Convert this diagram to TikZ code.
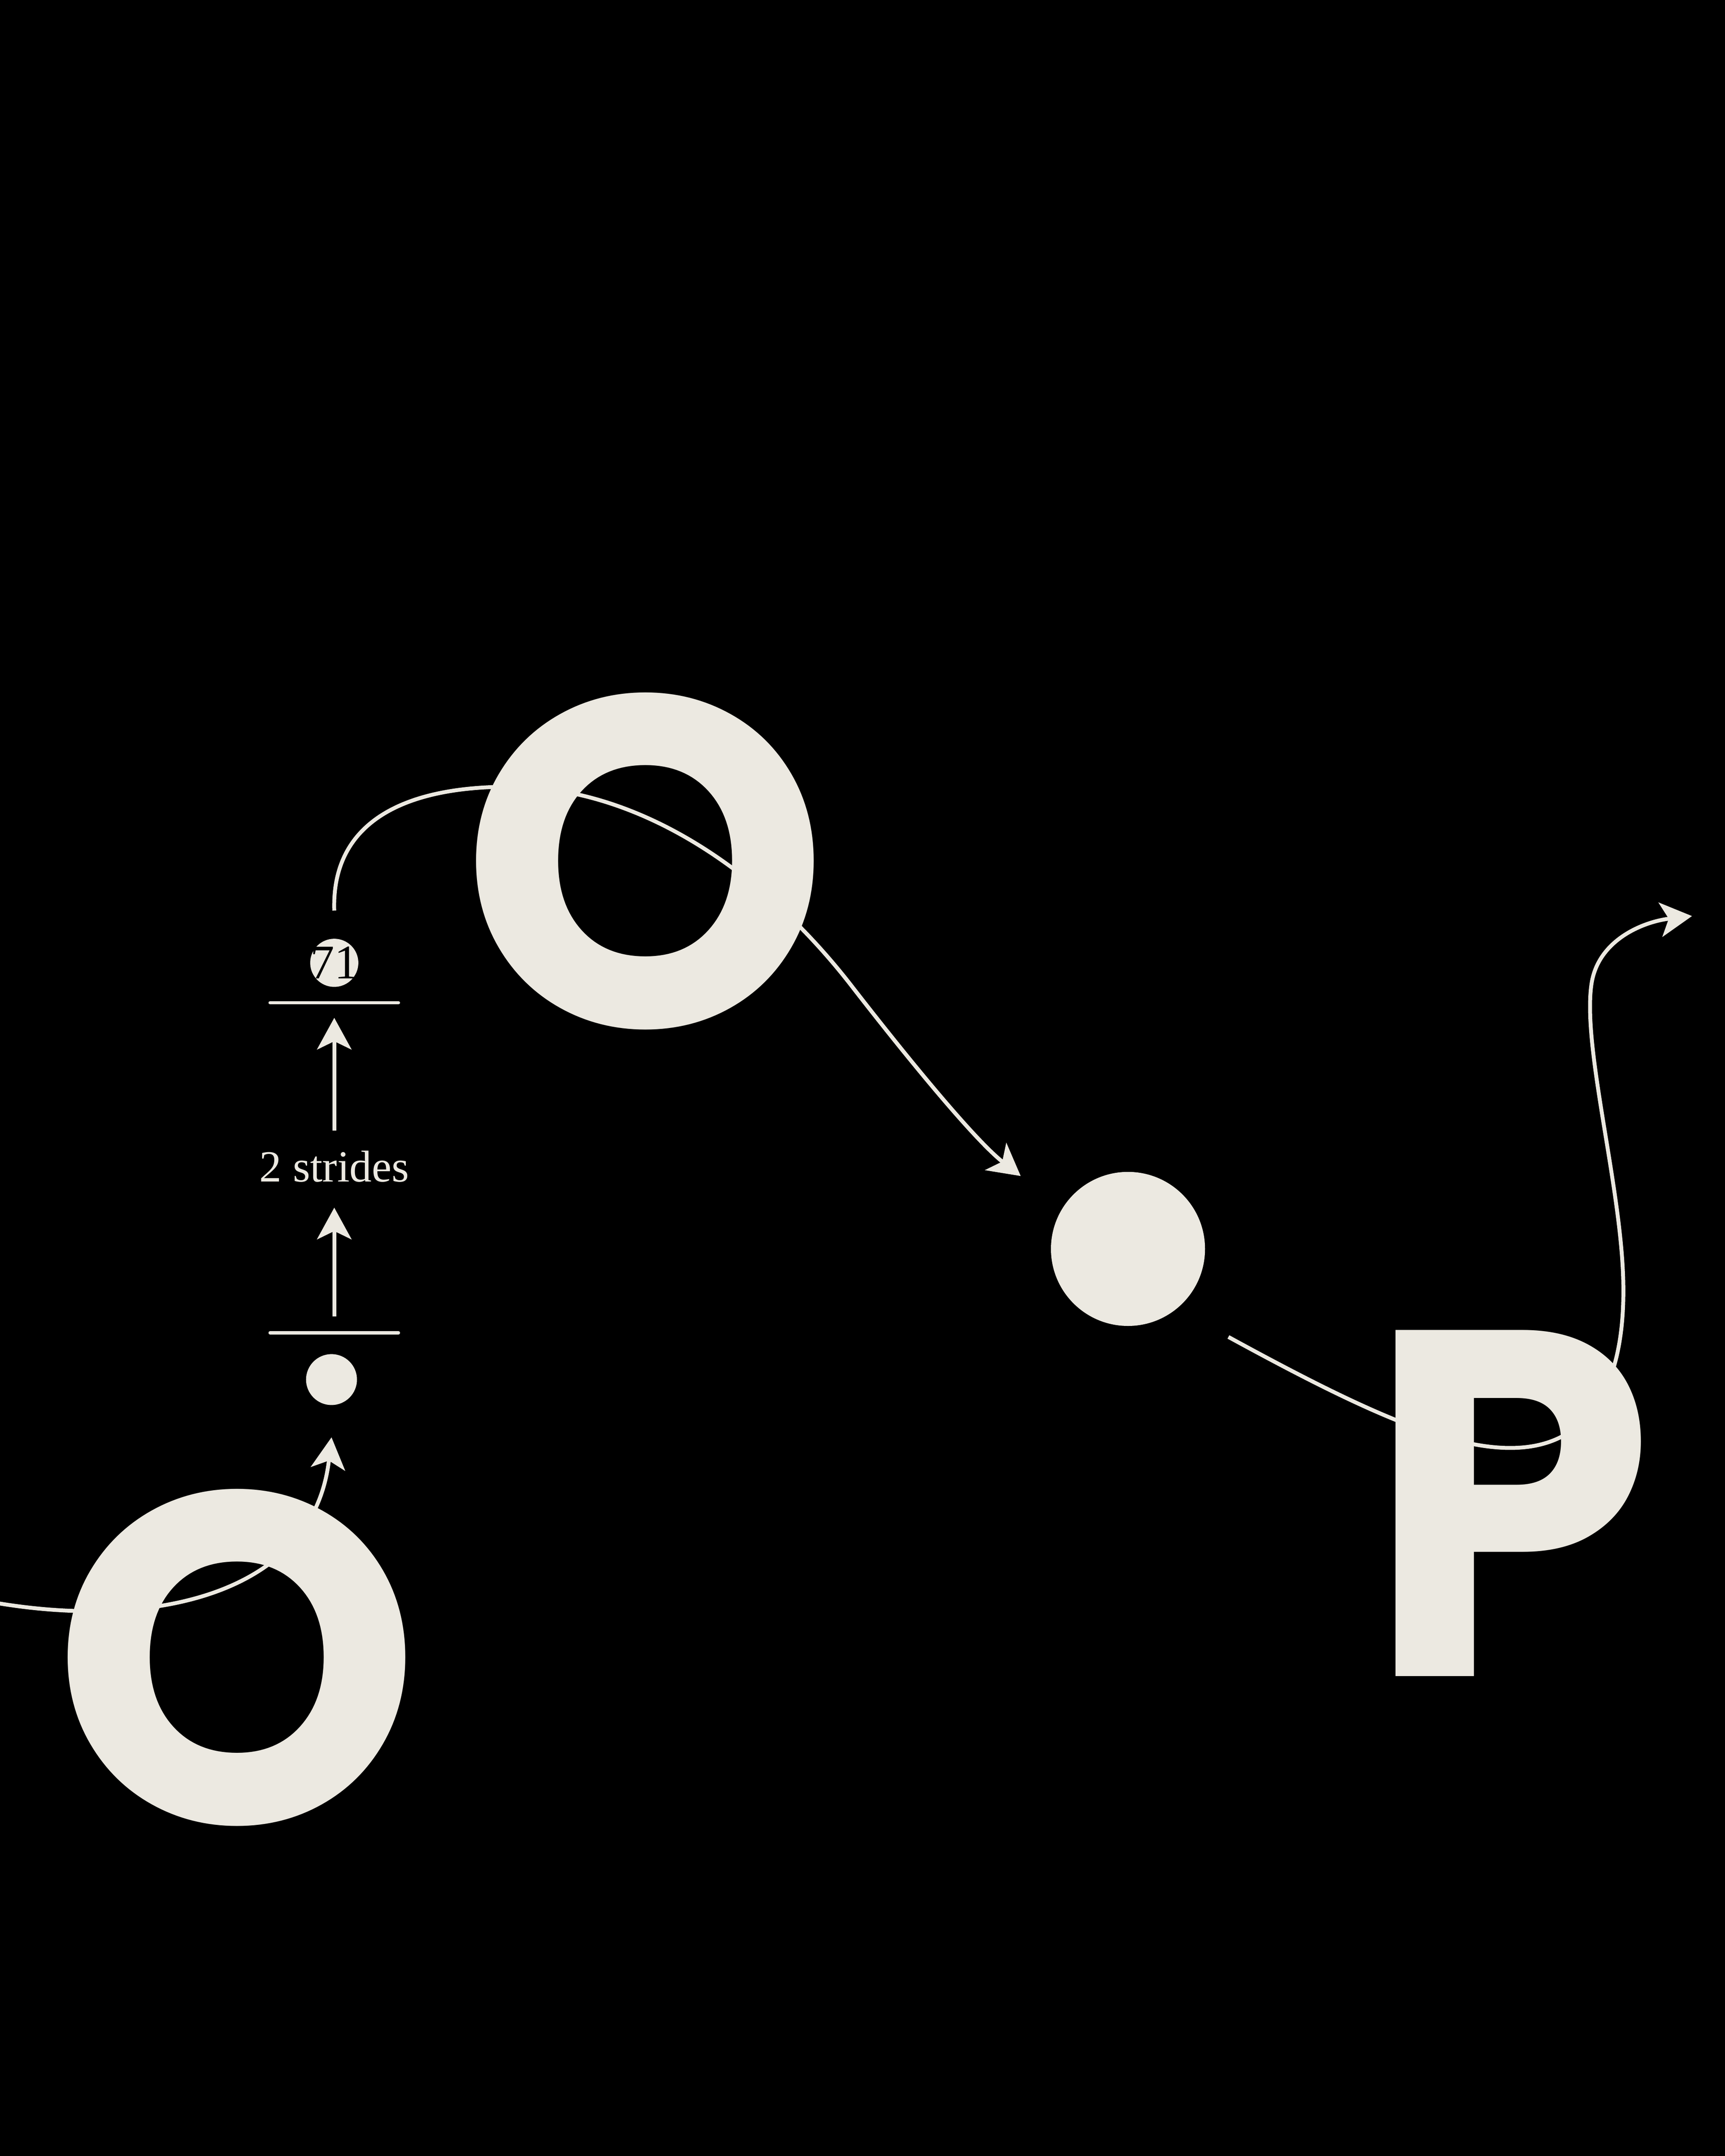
\documentclass[tikz,border=0pt]{standalone}
\usepackage{fontspec}
\setmainfont{Liberation Serif}
\newfontfamily\letterfont{Poppins}
\usetikzlibrary{arrows.meta,positioning}

\definecolor{cream}{RGB}{236,233,225}

\tikzset{
  conn/.style={draw=cream,line width=0.8pt,-{Stealth[length=2.3mm,width=2.5mm,inset=0.6mm]}},
  dot/.style={circle,fill=cream,inner sep=0pt},
  bar/.style={draw=cream,line width=0.65pt,line cap=round},
  barpos/.style={inner sep=0pt,minimum width=9.2mm,minimum height=0pt},
  bigletter/.style={text=cream,inner sep=0pt,font=\letterfont\bfseries\fontsize{#1}{#1}\selectfont},
}

\begin{document}
\begin{tikzpicture}[x=0.1mm,y=-0.1mm]

% fond
\fill[black] (0,0) rectangle (1254,1567.5);
\useasboundingbox (0,0) rectangle (1254,1567.5);

% points
\node[dot,minimum size=11.2mm] (dotbig) at (820,908) {};
\node[dot,minimum size=3.7mm] (dotsmall) at (241,1003) {};
\node[dot,minimum size=3.5mm] (badge) at (243,700) {};
\node[text=black,inner sep=0pt,font=\fontsize{10}{10}\selectfont] (badgetext) at (badge) {71};

% barres et etiquette
\node[barpos] (bartop) at (243,729) {};
\node[barpos] (barbot) at (243,969) {};
\draw[bar] (bartop.west) -- (bartop.east);
\draw[bar] (barbot.west) -- (barbot.east);
\node[text=cream,inner sep=0pt,font=\fontsize{9.2}{10}\selectfont] (strides) at (243,848) {2 strides};

\draw[conn] ([yshift=1.2mm]barbot.center) -- ([yshift=-3mm]strides.center);
\draw[conn] ([yshift=2.6mm]strides.center) -- ([yshift=-1.1mm]bartop.center);

% liens
\coordinate (startL) at (-5,1165);
\coordinate (exitP) at (1230,666);

\draw[conn] (startL) .. controls (110,1185) and (228,1160) .. ([yshift=-4.2mm]dotsmall.center);

\draw[conn] ([yshift=3.8mm]badge.center) .. controls (241,600) and (290,572) .. (370,572)
  .. controls (470,572) and (560,640) .. (620,718)
  .. controls (665,776) and (710,830) .. ([xshift=-7.8mm,yshift=5.3mm]dotbig.center);

\draw[conn] ([xshift=7.3mm,yshift=-6.4mm]dotbig.center) .. controls (990,1025) and (1060,1058) .. (1110,1052)
  .. controls (1160,1046) and (1182,1000) .. (1180,930)
  .. controls (1178,860) and (1150,760) .. (1157,715)
  .. controls (1162,683) and (1195,670) .. (exitP);

% lettres
\node[bigletter=97] (obottom) at (172,1205) {O};
\node[bigletter=97] (otop) at (469,626) {O};
\node[bigletter=102] (pright) at (1098,1093) {\scalebox{0.93}[1]{P}};

\end{tikzpicture}
\end{document}
